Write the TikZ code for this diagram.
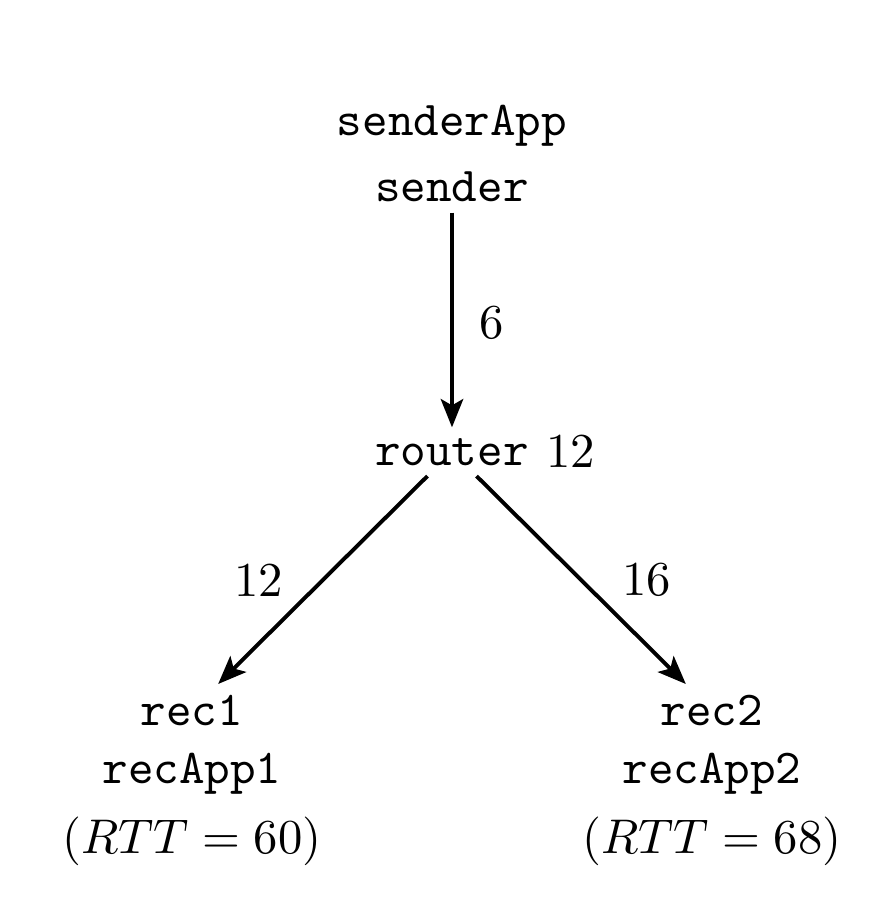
\documentclass[tikz,border=0pt]{standalone}
\usetikzlibrary{arrows.meta}
\begin{document}
\begin{tikzpicture}[x=0.2053pt, y=-0.2053pt,
  every node/.style={inner sep=2pt},
  tt/.style={font=\ttfamily, anchor=base},
  txt/.style={anchor=base},
  arr/.style={line width=0.8pt, -{Stealth[length=5.8pt, width=4.6pt, inset=1.3pt]}},
  elbl/.style={inner sep=0pt}]
\useasboundingbox (0,0) rectangle (874,898);
% sender
\node[tt] (senderApp) at (452,135) {senderApp};
\node[tt] (sender) at (452,201.7) {sender};
% router
\node[tt, label={[label distance=-0.8pt]right:12}] (router) at (452,465) {router};
% receivers
\node[tt] (rec1) at (192,725) {rec1};
\node[tt] (recApp1) at (192,783) {recApp1};
\node[txt] (rtt1) at (192,853) {$(RTT=60)$};
\node[tt] (rec2) at (712,725) {rec2};
\node[tt] (recApp2) at (712,783) {recApp2};
\node[txt] (rtt2) at (712,853) {$(RTT=68)$};
% edges
\draw[arr] (sender) -- (router) node[elbl, midway, right, xshift=5.2pt, yshift=-0.5pt] {6};
\draw[arr] (router) -- (rec1) node[elbl, midway, left, xshift=-7.8pt] {12};
\draw[arr] (router) -- (rec2) node[elbl, midway, right, xshift=8pt] {16};
\end{tikzpicture}
\end{document}
